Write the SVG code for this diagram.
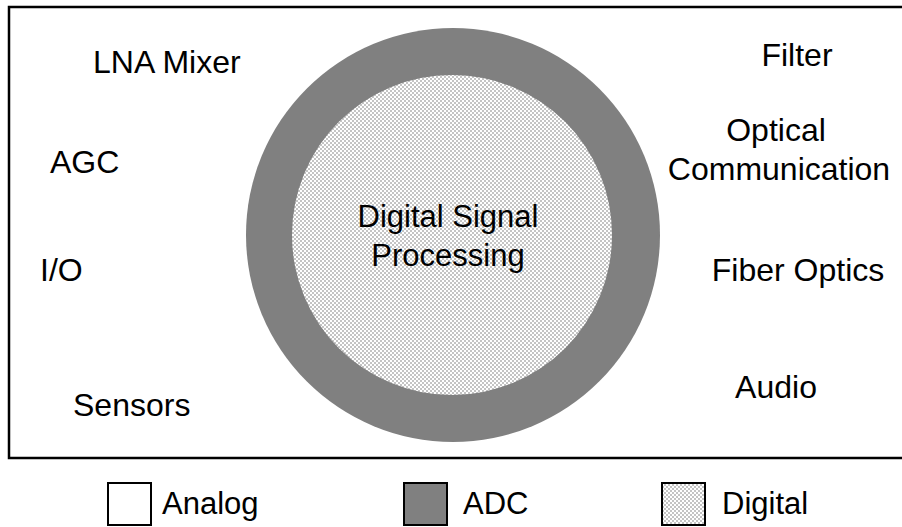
<svg xmlns="http://www.w3.org/2000/svg" width="902" height="527" viewBox="0 0 902 527">
<style>
text{font-family:"Liberation Sans",Arial,sans-serif;font-size:31px;fill:#000}
.side{font-size:32px}
.box{stroke:#000;stroke-width:2}
</style>
<defs>
<pattern id="chk" width="4" height="4" patternUnits="userSpaceOnUse">
<rect width="4" height="4" fill="#ffffff"/>
<rect width="2" height="2" fill="#c4c4c4"/>
<rect x="2" y="2" width="2" height="2" fill="#c4c4c4"/>
</pattern>
</defs>
<rect width="902" height="527" fill="#fff"/>
<g id="frame"><path d="M904 7 H9 V458 H904" fill="none" stroke="#000" stroke-width="2.5"/></g>
<g id="adc-ring"><circle cx="453" cy="235" r="207" fill="#808080"/></g>
<g id="dsp"><circle cx="452" cy="235" r="160" fill="url(#chk)"/>
<text x="448" y="227" text-anchor="middle">Digital Signal</text>
<text x="448" y="266" text-anchor="middle">Processing</text></g>
<g id="analog-labels">
<text class="side" x="93" y="73">LNA Mixer</text>
<text class="side" x="50" y="173">AGC</text>
<text class="side" x="40" y="281">I/O</text>
<text class="side" x="73" y="416">Sensors</text>
</g>
<g id="digital-labels">
<text class="side" x="797" y="66" text-anchor="middle">Filter</text>
<text class="side" x="776" y="141" text-anchor="middle">Optical</text>
<text class="side" x="779" y="180" text-anchor="middle">Communication</text>
<text class="side" x="798" y="281" text-anchor="middle">Fiber Optics</text>
<text class="side" x="776" y="398" text-anchor="middle">Audio</text>
</g>
<g id="connectors"></g>
<g id="legend">
<rect class="box" x="108" y="483" width="43" height="42" fill="#fff"/>
<text x="162" y="514">Analog</text>
<rect class="box" x="404" y="483" width="43" height="42" fill="#808080"/>
<text x="463" y="514">ADC</text>
<rect class="box" x="662" y="483" width="43" height="42" fill="url(#chk)"/>
<text x="722" y="514">Digital</text>
</g>
</svg>
